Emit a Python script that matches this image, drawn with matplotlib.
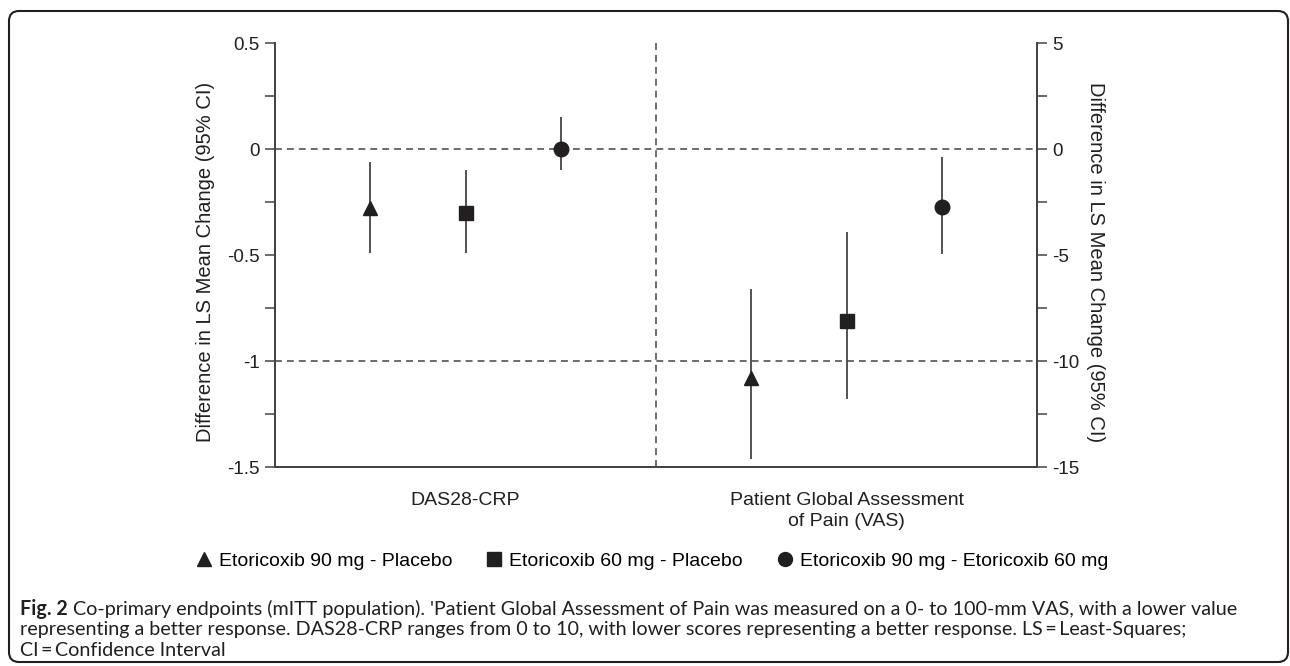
import numpy as np
import matplotlib
matplotlib.use("Agg")
import matplotlib.pyplot as plt
from matplotlib.patches import FancyBboxPatch
from matplotlib.lines import Line2D

# data
groups = ["DAS28-CRP", "Patient Global Assessment\nof Pain (VAS)"]
series = ["Etoricoxib 90 mg - Placebo", "Etoricoxib 60 mg - Placebo",
          "Etoricoxib 90 mg - Etoricoxib 60 mg"]
markers = ["^", "s", "o"]

das_est = [-0.28, -0.30, 0.00]
das_lo = [-0.49, -0.49, -0.10]
das_hi = [-0.06, -0.10, 0.15]

pga_est = [-10.8, -8.1, -2.75]
pga_lo = [-14.6, -11.8, -4.95]
pga_hi = [-6.6, -3.9, -0.4]

left_ticks = [0.5, 0, -0.5, -1, -1.5]
right_ticks = [5, 0, -5, -10, -15]

caption = [" Co-primary endpoints (mITT population). 'Patient Global Assessment of Pain was measured on a 0- to 100-mm VAS, with a lower value",
           "representing a better response. DAS28-CRP ranges from 0 to 10, with lower scores representing a better response. LS\u2009=\u2009Least-Squares;",
           "CI\u2009=\u2009Confidence Interval"]

ink = "#231f20"
line_col = "#444444"
cap_font = ["Lato", "DejaVu Sans"]

plt.rcParams["font.family"] = ["Liberation Sans", "DejaVu Sans"]
plt.rcParams["font.size"] = 14

W, H = 1290, 666
fig = plt.figure(figsize=(W / 100, H / 100), dpi=100)
ax = fig.add_axes([275 / W, 1 - 467 / H, 762 / W, 424 / H])
ax2 = ax.twinx()

ax.set_xlim(0, 8)
ax.set_ylim(-1.5, 0.5)
ax2.set_ylim(-15, 5)

# reference lines
dash = (0, (4.5, 3.3))
ax.axhline(0, color=line_col, lw=1.1, ls=dash, zorder=1)
ax.axhline(-1, color=line_col, lw=1.1, ls=dash, zorder=1)
ax.axvline(4, color=line_col, lw=1.1, ls=dash, zorder=1)

xs_das = [1, 2, 3]
xs_pga = [5, 6, 7]
for i in range(3):
    ax.vlines(xs_das[i], das_lo[i], das_hi[i], color=line_col, lw=1.3, zorder=2)
    ax.plot(xs_das[i], das_est[i], marker=markers[i], color=ink, ms=10.5, ls="none", zorder=3)
    ax2.vlines(xs_pga[i], pga_lo[i], pga_hi[i], color=line_col, lw=1.3, zorder=2)
    ax2.plot(xs_pga[i], pga_est[i], marker=markers[i], color=ink, ms=10.5, ls="none", zorder=3)

for a in (ax, ax2):
    a.spines["top"].set_visible(False)
    for s in ("left", "right", "bottom"):
        a.spines[s].set_color(line_col)
        a.spines[s].set_linewidth(1.4)
    a.tick_params(axis="y", which="both", direction="out", length=7, width=1.1,
                  color=line_col, labelsize=13.5, labelcolor=ink, pad=4)

ax.set_yticks(left_ticks)
ax.set_yticklabels([f"{v:g}" for v in left_ticks])
ax.set_yticks(np.arange(-1.25, 0.5, 0.5), minor=True)
ax2.set_yticks(right_ticks)
ax2.set_yticklabels([f"{v:g}" for v in right_ticks])
ax2.set_yticks(np.arange(-12.5, 5, 5), minor=True)

ax.set_xticks([2, 6])
ax.set_xticklabels(groups, fontsize=14, color=ink, linespacing=1.3)
ax.tick_params(axis="x", length=0, pad=18)

ax.set_ylabel("Difference in LS Mean Change (95% CI)", fontsize=14.5, color=ink)
ax.yaxis.set_label_coords((215 - 275) / 762, 0.483)
ax2.set_ylabel("Difference in LS Mean Change (95% CI)", fontsize=14.5, color=ink, rotation=270, va="center")
ax2.yaxis.set_label_coords((1095 - 275) / 762, 0.483)

handles = [Line2D([], [], marker=m, color=ink, ls="none", ms=10) for m in markers]
fig.legend(handles, series, loc="center", bbox_to_anchor=(651 / W, 1 - 561 / H),
           ncol=3, frameon=False, fontsize=14, handletextpad=0.27, columnspacing=1.65,
           handlelength=1.0, borderpad=0, borderaxespad=0)

# caption, sized so the first line ends where it does in the figure
r = fig.canvas.get_renderer()
probe_b = fig.text(0, 0, "Fig. 2", fontsize=10, fontweight="bold", family=cap_font)
probe_r = fig.text(0, 0, caption[0], fontsize=10, family=cap_font)
wb = probe_b.get_window_extent(r).width
wr = probe_r.get_window_extent(r).width
probe_b.remove()
probe_r.remove()
cap_size = 10 * (1240 - 20) / (wb + wr)

line_y = [609, 630, 650]
t = fig.text(20 / W, 1 - line_y[0] / H, "Fig. 2", fontsize=cap_size, fontweight="bold",
             family=cap_font, color=ink, va="center")
bb = t.get_window_extent(r)
fig.text(bb.x1 / W, 1 - line_y[0] / H, caption[0], fontsize=cap_size, family=cap_font,
         color=ink, va="center")
for k in (1, 2):
    fig.text(20 / W, 1 - line_y[k] / H, caption[k], fontsize=cap_size, family=cap_font,
             color=ink, va="center")

# rounded frame
frame = FancyBboxPatch((9, 4), 1279, 651, boxstyle="round,pad=0,rounding_size=10",
                       fc="none", ec=ink, lw=1.5, transform=None)
fig.patches.append(frame)

fig.savefig("out.png", dpi=100)
